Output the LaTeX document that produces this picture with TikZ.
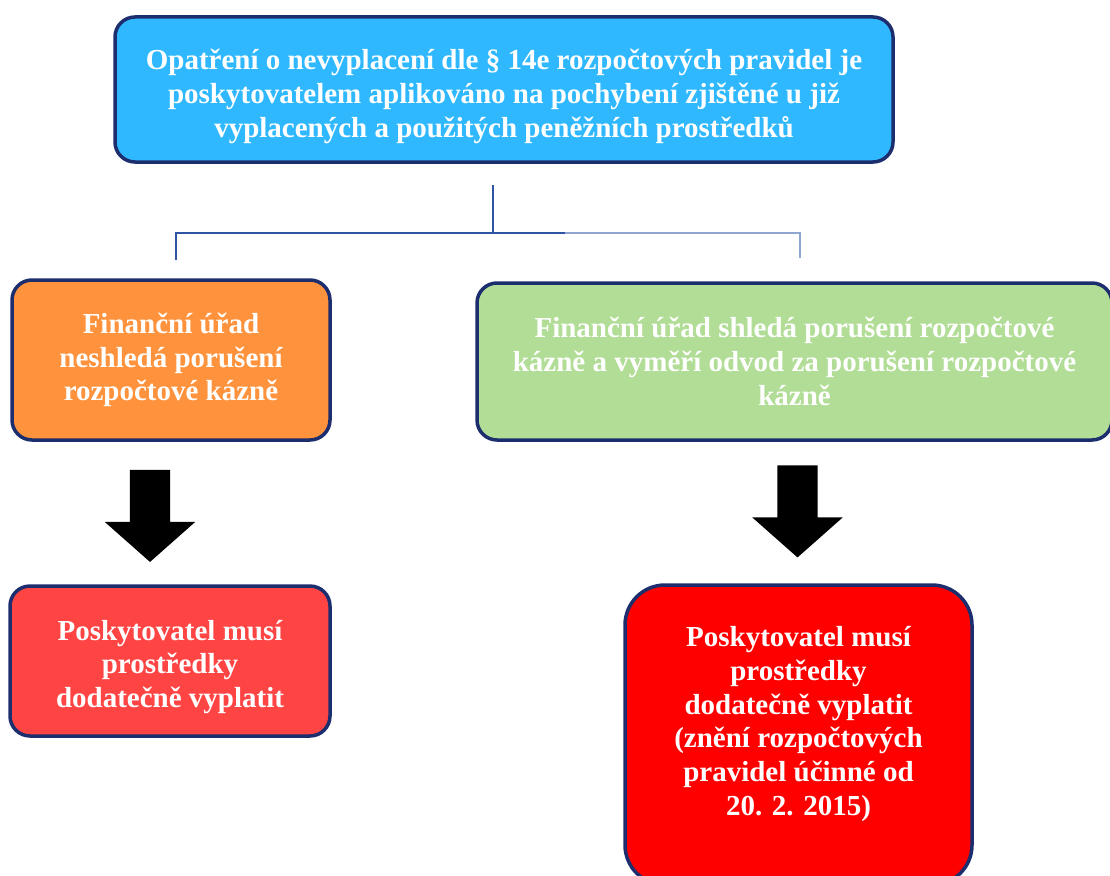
\documentclass[tikz,border=0pt]{standalone}
\usepackage{fontspec}
\setmainfont{Liberation Serif}
\usetikzlibrary{shapes.arrows,positioning}
\definecolor{hornimodra}{RGB}{48,184,255}
\definecolor{okraj}{RGB}{29,46,110}
\definecolor{oranzova}{RGB}{255,146,60}
\definecolor{zelena}{RGB}{177,221,150}
\definecolor{svetlecervena}{RGB}{255,68,68}
\definecolor{cervena}{RGB}{255,0,0}
\definecolor{spoj}{RGB}{47,84,165}
\definecolor{spojsvetly}{RGB}{143,166,208}

\begin{document}
\begin{tikzpicture}[
    x=1pt, y=-1pt,
    txt/.style={text=white, align=center, inner sep=0pt, font=\bfseries\fontsize{29}{33.7}\selectfont},
    box/.style={rectangle, draw=okraj, line width=3.5pt, rounded corners=20pt, txt},
    conn/.style={draw=spoj, line width=1.5pt},
    sipka/.style={single arrow, fill=black, draw=none, shape border rotate=270, inner sep=0pt, text width=40pt, single arrow head extend=25pt, single arrow tip angle=97, minimum height=92pt}
]
\useasboundingbox (0,0) rectangle (1110,875);
\clip (0,0) rectangle (1110,875);

% Horni box
\node[box, fill=hornimodra, minimum width=778pt, minimum height=145pt] (top) at (504,89.5) {};
\node[txt] (toptxt) at ([yshift=-7pt]top.center) {Opatření o nevyplacení dle § 14e rozpočtových pravidel je\\poskytovatelem aplikováno na pochybení zjištěné u již\\vyplacených a použitých peněžních prostředků};

% Vetveni
\coordinate (stem) at (493,185);
\coordinate (fork) at (493,233);
\coordinate (mid) at (565,233);
\coordinate (lft) at (176,233);
\coordinate (rgt) at (800,233);
\coordinate (lend) at (176,260);
\coordinate (rend) at (800,258);
\draw[conn] (stem) -- (fork) -- (lft) -- (lend);
\draw[conn] (fork) -- (mid);
\draw[conn, draw=spojsvetly] (mid) -- (rgt) -- (rend);

% Druha uroven
\node[box, fill=oranzova, minimum width=318pt, minimum height=160pt] (neshleda) at (171,360) {Finanční úřad\\neshledá porušení\\rozpočtové kázně};
\node[box, fill=zelena, minimum width=635pt, minimum height=157pt] (shleda) at (794.5,361.5) {Finanční úřad shledá porušení rozpočtové\\kázně a vyměří odvod za porušení rozpočtové\\kázně};

% Sipky
\node[sipka] (arrL) at (150,507) {};
\node[sipka] (arrR) at (797.5,502.5) {};

% Treti uroven
\node[box, fill=svetlecervena, minimum width=320pt, minimum height=150pt] (vyplatit1) at (170,661) {};
\node[txt] (vyplatit1txt) at ([yshift=-6pt]vyplatit1.center) {Poskytovatel musí\\prostředky\\dodatečně vyplatit};
\node[box, fill=cervena, rounded corners=40pt, minimum width=347pt, minimum height=300pt] (vyplatit2) at (798.5,735) {};
\node[txt] (vyplatit2txt) at ([yshift=11pt]vyplatit2.center) {Poskytovatel musí\\prostředky\\dodatečně vyplatit\\(znění rozpočtových\\pravidel účinné od\\20. 2. 2015)};

\end{tikzpicture}
\end{document}
